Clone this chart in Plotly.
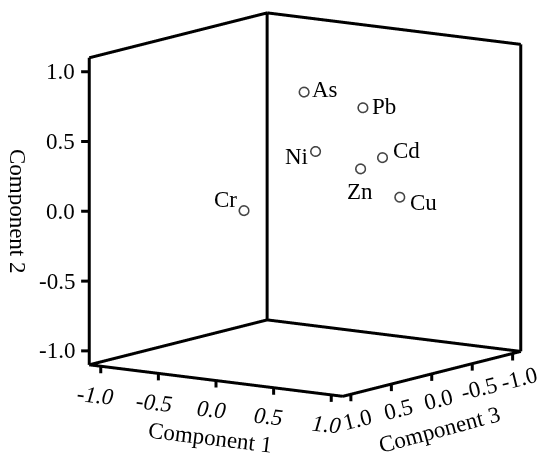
import plotly.graph_objects as go

# rotated component loadings
elements = ["As", "Pb", "Ni", "Cd", "Zn", "Cu", "Cr"]
component1 = [0.13, 0.64, 0.44, 0.81, 0.62, 0.89, 0.10]
component2 = [0.85, 0.79, 0.50, 0.45, 0.35, 0.16, 0.10]
component3 = [0.20, 0.20, 0.50, 0.20, 0.20, 0.10, 0.90]

# label anchor and pixel offset for each point name
label_anchor = ["left", "left", "right", "left", "center", "left", "right"]
label_dx = [6, 7, -5, 9, 0, 9, -5]
label_dy = [2, 1, -5, 7, -23, -5, 11]

tick_values = [-1.0, -0.5, 0.0, 0.5, 1.0]
tick_labels = ["-1.0", "-0.5", "0.0", "0.5", "1.0"]
box_limit = 1.1
axis_limit = 1.16

FONT = "Liberation Serif"
TEXT_SIZE = 23

# scene axes: x = Component 3, y = Component 1, z = Component 2
r = box_limit
edges = [
    [(-r, -r, -r), (-r, -r, r)],
    [(r, -r, -r), (r, -r, r)],
    [(-r, r, -r), (-r, r, r)],
    [(-r, -r, r), (r, -r, r)],
    [(-r, -r, r), (-r, r, r)],
    [(-r, -r, -r), (r, -r, -r)],
    [(-r, -r, -r), (-r, r, -r)],
    [(r, -r, -r), (r, r, -r)],
    [(-r, r, -r), (r, r, -r)],
]
# small tick marks along the three labelled edges
for v in tick_values:
    edges.append([(r, -r, v), (r + 0.033, -r - 0.047, v)])
    edges.append([(r, v, -r), (r, v, -r - 0.05)])
    edges.append([(v, r, -r), (v, r, -r - 0.05)])

ex, ey, ez = [], [], []
for a, b in edges:
    for p in (a, b):
        ex.append(p[0])
        ey.append(p[1])
        ez.append(p[2])
    ex.append(None)
    ey.append(None)
    ez.append(None)

fig = go.Figure()
fig.add_trace(go.Scatter3d(
    x=ex, y=ey, z=ez, mode="lines",
    line=dict(color="black", width=6),
    hoverinfo="skip", showlegend=False,
))
fig.add_trace(go.Scatter3d(
    x=component3, y=component1, z=component2,
    mode="markers",
    text=elements,
    marker=dict(symbol="circle-open", size=6, color="#444444", line=dict(width=2)),
    showlegend=False,
))

font = dict(family=FONT, size=TEXT_SIZE, color="black")
notes = []
for name, c1, c2, c3, anc, dx, dy in zip(elements, component1, component2, component3,
                                          label_anchor, label_dx, label_dy):
    notes.append(dict(x=c3, y=c1, z=c2, text=name, showarrow=False, font=font,
                      xanchor=anc, yanchor="middle", xshift=dx, yshift=dy))
for v, t in zip(tick_values, tick_labels):
    notes.append(dict(x=r, y=-r, z=v, text=t, showarrow=False, font=font,
                      xanchor="right", yanchor="middle", xshift=-12))
    notes.append(dict(x=r, y=v, z=-r, text=t, showarrow=False,
                      font=dict(font, style="italic"), textangle=6,
                      xanchor="center", yanchor="middle", xshift=-5, yshift=-29))
    notes.append(dict(x=v, y=r, z=-r, text=t, showarrow=False, font=font, textangle=-14,
                      xanchor="center", yanchor="middle", xshift=7, yshift=-25))
notes.append(dict(x=r, y=0, z=-r, text="Component 1", showarrow=False, font=font,
                  textangle=7, xshift=-6, yshift=-57))
notes.append(dict(x=0, y=r, z=-r, text="Component 3", showarrow=False, font=font,
                  textangle=-15, xshift=8, yshift=-55))
notes.append(dict(x=r, y=-r, z=0, text="Component 2", showarrow=False, font=font,
                  textangle=90, xshift=-72))

axis_style = dict(
    range=[-axis_limit, axis_limit],
    title=dict(text=""),
    showticklabels=False,
    ticks="",
    showgrid=False,
    zeroline=False,
    showline=False,
    showbackground=False,
    showspikes=False,
)

aspect = 1.5 * axis_limit / box_limit

fig.update_layout(
    width=550,
    height=462,
    margin=dict(l=0, r=0, t=0, b=0),
    paper_bgcolor="white",
    font=dict(family=FONT, size=TEXT_SIZE, color="black"),
    scene=dict(
        domain=dict(x=[0.095, 0.985], y=[0.11, 1.0]),
        xaxis=axis_style,
        yaxis=axis_style,
        zaxis=axis_style,
        aspectmode="manual",
        aspectratio=dict(x=aspect * 1.005, y=aspect * 1.005, z=aspect * 1.012),
        annotations=notes,
        camera=dict(
            projection=dict(type="orthographic"),
            eye=dict(x=1.61, y=1.13, z=0.31),
            up=dict(x=0, y=0, z=1),
            center=dict(x=0, y=0, z=-0.044),
        ),
    ),
)

fig.write_html("out.html")
